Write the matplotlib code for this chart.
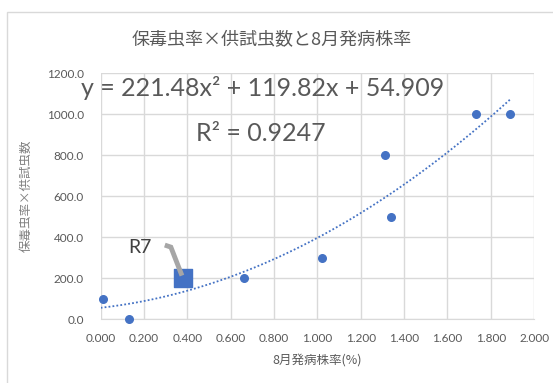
import numpy as np
import matplotlib
matplotlib.use("Agg")
import matplotlib.pyplot as plt
from matplotlib.patches import Rectangle

plt.rcParams['font.family'] = ['Noto Sans CJK JP', 'DejaVu Sans']

# Data: disease incidence in August (%) vs. viruliferous rate x insects tested
incidence = [0.01, 0.13, 0.66, 1.02, 1.31, 1.34, 1.73, 1.89]
vector_index = [100, 0, 200, 300, 800, 500, 1000, 1000]
r7_x = [0.38]
r7_y = [200]

# Quadratic trendline coefficients (a, b, c) and R^2
coef = [221.48, 119.82, 54.909]
r_squared = 0.9247

xticks = [0.0, 0.2, 0.4, 0.6, 0.8, 1.0, 1.2, 1.4, 1.6, 1.8, 2.0]
yticks = [0, 200, 400, 600, 800, 1000, 1200]

blue = '#4472C4'
grid_c = '#D9D9D9'
text_c = '#595959'
latin = ['Lato', 'DejaVu Sans']

fig = plt.figure(figsize=(5.53, 3.83), dpi=100)
ax = fig.add_axes([0.182, 0.167, 0.784, 0.642])

# chart frame
fig.patches.append(Rectangle((7 / 553, -0.1), 1.2, 1 - 12 / 383 + 0.1,
                             transform=fig.transFigure, fill=False,
                             edgecolor='#D9D9D9', linewidth=1.0))

ax.set_xlim(0, 2.0)
ax.set_ylim(0, 1200)
ax.set_xticks(xticks)
ax.set_yticks(yticks)
ax.set_xticklabels([f"{v:.3f}" for v in xticks], family=latin)
ax.set_yticklabels([f"{v:.1f}" for v in yticks], family=latin)
ax.grid(True, color=grid_c, linewidth=1.0)
ax.set_axisbelow(True)
for s in ['top', 'right', 'left']:
    ax.spines[s].set_visible(False)
ax.spines['bottom'].set_color(grid_c)
ax.tick_params(length=0, labelsize=8.5, colors=text_c)
ax.tick_params(axis='x', pad=10)
ax.tick_params(axis='y', pad=12)

# trendline
xs = np.linspace(0, max(incidence), 200)
ys = np.polyval(coef, xs)
ax.plot(xs, ys, linestyle=(0, (1, 1.2)), color=blue, linewidth=1.3, zorder=2)

ax.scatter(incidence, vector_index, s=30, color=blue, zorder=3, clip_on=False)
ax.scatter(r7_x, r7_y, s=150, marker='s', color=blue, zorder=3)

# R7 callout with leader line
ax.plot([0.296, 0.324, 0.375], [361, 351, 212], color='#A6A6A6', lw=3.5,
        solid_capstyle='butt', solid_joinstyle='miter', zorder=4)
ax.text(0.237, 348, 'R7', fontsize=14, color='#404040', ha='right',
        va='center', family=latin)

eq = f"y = {coef[0]:.2f}x² + {coef[1]:.2f}x + {coef[2]:.3f}"
fig.text(263 / 553, 1 - 88 / 383, eq, fontsize=18, color=text_c,
         ha='center', va='center', family=latin)
fig.text(261 / 553, 1 - 133 / 383, f"R² = {r_squared:.4f}", fontsize=18,
         color=text_c, ha='center', va='center', family=latin)

fig.text(272 / 553, 1 - 40 / 383, '保毒虫率×供試虫数と8月発病株率',
         fontsize=13, color=text_c, ha='center', va='center')
ax.set_xlabel('8月発病株率(%)', fontsize=9, color=text_c, labelpad=7)
ax.set_ylabel('保毒虫率×供試虫数', fontsize=9, color='#7F7F7F', labelpad=10)

fig.savefig('out.png', dpi=100)
